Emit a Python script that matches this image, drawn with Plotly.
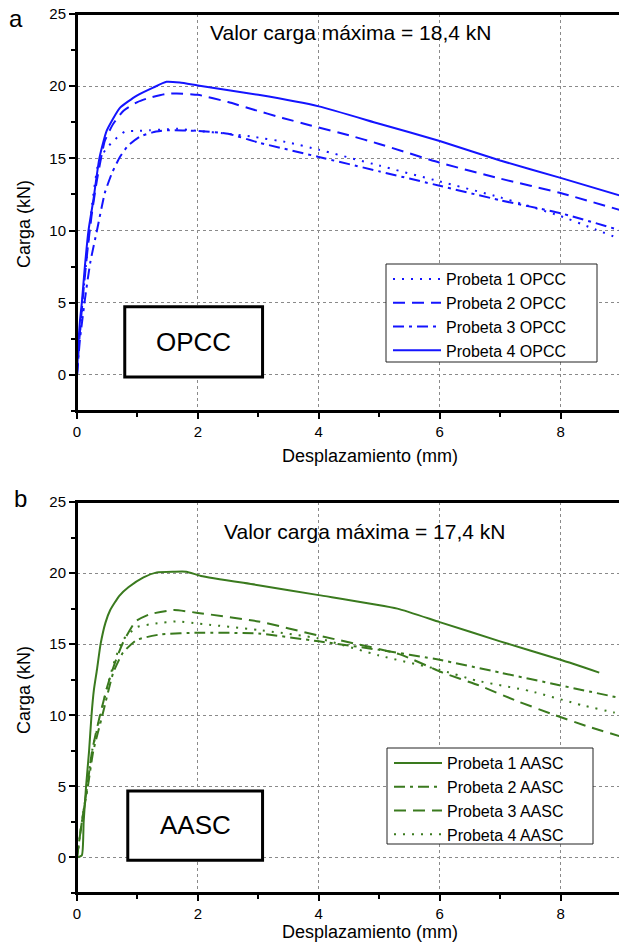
import plotly.graph_objects as go

# page body has an 8px margin, so the figure is drawn shifted by OFF pixels
OFF = 8
W, H = 627, 950
FONT = "Liberation Sans, Arial, Helvetica, sans-serif"
BLUE = "#1414ff"
GREEN = "#3a7a1e"

# ---------------- Data: panel a (OPCC) ----------------
p1_opcc_x = [0, 0.04, 0.1, 0.17, 0.25, 0.35, 0.47, 0.6, 0.79, 1.0, 1.2, 1.45, 1.65, 2.0, 2.5, 2.9, 3.5, 4.0, 5.0, 6.0, 7.0, 8.0, 8.5, 9.0]
p1_opcc_y = [0, 2.5, 5.5, 8.5, 11.8, 14.6, 15.6, 16.2, 16.85, 16.9, 16.95, 17.0, 17.05, 16.9, 16.7, 16.5, 16.1, 15.6, 14.5, 13.4, 12.3, 11.0, 10.2, 9.4]

p2_opcc_x = [0, 0.04, 0.1, 0.17, 0.24, 0.33, 0.46, 0.6, 0.77, 1.0, 1.2, 1.45, 1.65, 2.0, 2.5, 2.9, 3.4, 3.85, 4.5, 5.0, 6.0, 7.0, 8.0, 9.0]
p2_opcc_y = [0, 2.5, 5.5, 8.5, 11.0, 13.5, 16.2, 17.4, 18.3, 18.9, 19.2, 19.45, 19.5, 19.4, 18.9, 18.4, 17.8, 17.3, 16.6, 16.0, 14.7, 13.6, 12.6, 11.4]

p3_opcc_x = [0, 0.05, 0.13, 0.22, 0.33, 0.46, 0.58, 0.71, 0.85, 1.04, 1.25, 1.5, 2.0, 2.5, 3.0, 4.0, 5.0, 6.0, 7.0, 8.0, 9.0]
p3_opcc_y = [0, 2.5, 5.2, 7.8, 10.0, 12.6, 14.0, 15.1, 15.9, 16.5, 16.8, 16.95, 16.9, 16.7, 16.1, 15.1, 14.1, 13.1, 12.1, 11.2, 10.0]

p4_opcc_x = [0, 0.02, 0.05, 0.08, 0.13, 0.19, 0.27, 0.37, 0.49, 0.71, 0.99, 1.26, 1.48, 1.7, 2.0, 3.0, 4.0, 5.0, 6.0, 7.0, 8.0, 9.0]
p4_opcc_y = [0, 2.0, 3.8, 5.0, 7.5, 10.0, 12.1, 15.0, 16.9, 18.5, 19.35, 19.9, 20.3, 20.25, 20.05, 19.4, 18.6, 17.4, 16.2, 14.85, 13.65, 12.4]

# ---------------- Data: panel b (AASC) ----------------
p1_aasc_x = [0, 0.08, 0.11, 0.15, 0.2, 0.24, 0.28, 0.33, 0.39, 0.47, 0.55, 0.7, 0.85, 1.1, 1.32, 1.6, 1.81, 2.05, 3.0, 4.0, 5.3, 6.0, 7.0, 8.0, 8.64]
p1_aasc_y = [0, 0.15, 2.5, 5.0, 7.5, 10.0, 11.8, 13.2, 15.0, 16.5, 17.4, 18.4, 19.0, 19.7, 20.05, 20.1, 20.1, 19.8, 19.15, 18.45, 17.5, 16.55, 15.2, 13.9, 13.0]

p2_aasc_x = [0, 0.08, 0.18, 0.27, 0.42, 0.6, 0.76, 0.99, 1.4, 2.0, 3.0, 4.0, 5.0, 6.0, 7.0, 8.0, 9.0]
p2_aasc_y = [0, 2.5, 5.0, 7.5, 10.0, 13.0, 14.4, 15.3, 15.7, 15.8, 15.75, 15.2, 14.6, 13.9, 13.0, 12.1, 11.2]

p3_aasc_x = [0, 0.08, 0.17, 0.25, 0.38, 0.5, 0.62, 0.76, 0.97, 1.2, 1.6, 2.0, 3.0, 4.0, 5.33, 6.05, 6.65, 7.25, 7.85, 8.46, 9.0]
p3_aasc_y = [0, 2.5, 5.0, 7.5, 10.0, 12.0, 13.6, 15.1, 16.6, 17.1, 17.4, 17.2, 16.6, 15.6, 14.3, 13.0, 12.1, 11.05, 10.1, 9.2, 8.5]

p4_aasc_x = [0, 0.08, 0.17, 0.25, 0.39, 0.5, 0.62, 0.76, 0.99, 1.3, 1.65, 2.0, 3.0, 4.0, 5.0, 6.0, 6.6, 7.5, 8.36, 8.88, 9.0]
p4_aasc_y = [0, 2.5, 5.0, 7.5, 10.0, 12.0, 13.8, 15.3, 16.2, 16.45, 16.6, 16.45, 16.0, 15.4, 14.2, 13.2, 12.45, 11.7, 10.7, 10.2, 10.1]

x_ticks = [0, 2, 4, 6, 8]
y_ticks = [0, 5, 10, 15, 20, 25]

DOT = "2px,7px"
DASH = "12px,7px"
DASHDOT = "11px,5px,3px,5px"

fig = go.Figure()

def add(x, y, name, color, dash, xa, ya, legend):
    fig.add_trace(go.Scatter(
        x=x, y=y, name=name, mode="lines",
        line=dict(color=color, width=2, dash=dash, shape="spline", smoothing=0.5),
        xaxis=xa, yaxis=ya, legend=legend))

add(p1_opcc_x, p1_opcc_y, "Probeta 1 OPCC", BLUE, DOT, "x", "y", "legend")
add(p2_opcc_x, p2_opcc_y, "Probeta 2 OPCC", BLUE, DASH, "x", "y", "legend")
add(p3_opcc_x, p3_opcc_y, "Probeta 3 OPCC", BLUE, DASHDOT, "x", "y", "legend")
add(p4_opcc_x, p4_opcc_y, "Probeta 4 OPCC", BLUE, "solid", "x", "y", "legend")

add(p1_aasc_x, p1_aasc_y, "Probeta 1 AASC", GREEN, "solid", "x2", "y2", "legend2")
add(p2_aasc_x, p2_aasc_y, "Probeta 2 AASC", GREEN, DASHDOT, "x2", "y2", "legend2")
add(p3_aasc_x, p3_aasc_y, "Probeta 3 AASC", GREEN, DASH, "x2", "y2", "legend2")
add(p4_aasc_x, p4_aasc_y, "Probeta 4 AASC", GREEN, DOT, "x2", "y2", "legend2")

# convert window pixel positions (as measured on the target) to paper fractions
def px_x(p):
    return (p - OFF) / W

def px_y(p):
    return 1 - (p - OFF) / H

xdom = [px_x(77), px_x(621)]
ydom1 = [px_y(411), px_y(14)]
ydom2 = [px_y(893), px_y(502)]

common_x = dict(range=[0, 9], tickvals=x_ticks, showline=True, linewidth=2, linecolor="black",
                mirror=True, ticks="outside", ticklen=6, tickwidth=2, tickcolor="black",
                showgrid=True, gridcolor="#8a8a8a", gridwidth=1, griddash="dot", zeroline=False,
                automargin=False, ticklabeloverflow="allow",
                tickfont=dict(size=15, color="black", family=FONT),
                minor=dict(ticks="outside", ticklen=4, tickwidth=2, tickcolor="black", dtick=1, tick0=0, showgrid=False))
common_y = dict(range=[-2.5, 25], tickvals=y_ticks, showline=True, linewidth=2, linecolor="black",
                mirror=True, ticks="outside", ticklen=6, tickwidth=2, tickcolor="black",
                showgrid=True, gridcolor="#8a8a8a", gridwidth=1, griddash="dot", zeroline=False,
                automargin=False, ticklabeloverflow="allow",
                tickfont=dict(size=15, color="black", family=FONT),
                minor=dict(ticks="outside", ticklen=4, tickwidth=2, tickcolor="black", dtick=2.5, tick0=0, showgrid=False))

fig.update_layout(
    width=W, height=H, margin=dict(l=0, r=0, t=0, b=0, autoexpand=False),
    paper_bgcolor="white", plot_bgcolor="white",
    font=dict(family=FONT, color="black"),
    xaxis=dict(domain=xdom, anchor="y", **common_x),
    yaxis=dict(domain=ydom1, anchor="x", **common_y),
    xaxis2=dict(domain=xdom, anchor="y2", **common_x),
    yaxis2=dict(domain=ydom2, anchor="x2", **common_y),
    legend=dict(x=px_x(388), y=px_y(262), xanchor="left", yanchor="top", bgcolor="rgba(0,0,0,0)",
                borderwidth=0, font=dict(size=16, family=FONT), itemwidth=48,
                tracegroupgap=0),
    legend2=dict(x=px_x(389), y=px_y(746), xanchor="left", yanchor="top", bgcolor="rgba(0,0,0,0)",
                 borderwidth=0, font=dict(size=16, family=FONT), itemwidth=48,
                 tracegroupgap=0),
    showlegend=True,
)

# plot frames (ensure full box is visible)
fig.add_shape(type="rect", xref="x domain", yref="y domain", x0=0, x1=1, y0=0, y1=1,
              line=dict(color="black", width=2), layer="above")
fig.add_shape(type="rect", xref="x2 domain", yref="y2 domain", x0=0, x1=1, y0=0, y1=1,
              line=dict(color="black", width=2), layer="above")

# legend frames
fig.add_shape(type="rect", xref="paper", yref="paper", x0=px_x(386), x1=px_x(597), y0=px_y(362), y1=px_y(264),
              line=dict(color="#222", width=1), fillcolor="white", layer="above")
fig.add_shape(type="rect", xref="paper", yref="paper", x0=px_x(387), x1=px_x(593), y0=px_y(844), y1=px_y(748),
              line=dict(color="#222", width=1), fillcolor="white", layer="above")

# Boxes with specimen type
fig.add_shape(type="rect", xref="x", yref="y", x0=0.79, x1=3.07, y0=-0.15, y1=4.72,
              line=dict(color="black", width=3), fillcolor="white", layer="above")
fig.add_shape(type="rect", xref="x2", yref="y2", x0=0.84, x1=3.07, y0=-0.2, y1=4.68,
              line=dict(color="black", width=3), fillcolor="white", layer="above")

def note(text, xref, yref, x, y, size, angle=0):
    return dict(text=text, xref=xref, yref=yref, x=x, y=y, showarrow=False,
                xanchor="center", yanchor="middle", textangle=angle, font=dict(size=size, color="black"))

ann = [
    note("OPCC", "x", "y", 1.93, 2.3, 26),
    note("AASC", "x2", "y2", 1.96, 2.25, 26),
    note("Valor carga máxima = 18,4 kN", "x", "y", 4.53, 23.7, 21),
    note("Valor carga máxima = 17,4 kN", "x2", "y2", 4.76, 22.9, 21),
    note("a", "paper", "paper", px_x(16), px_y(18), 24),
    note("b", "paper", "paper", px_x(20), px_y(498), 24),
    note("Desplazamiento (mm)", "paper", "paper", px_x(370), px_y(456), 18),
    note("Desplazamiento (mm)", "paper", "paper", px_x(370), px_y(932), 18),
    note("Carga (kN)", "paper", "paper", px_x(24), px_y(224), 18, -90),
    note("Carga (kN)", "paper", "paper", px_x(24), px_y(690), 18, -90),
]
fig.update_layout(annotations=ann)

fig.write_html("out.html")
